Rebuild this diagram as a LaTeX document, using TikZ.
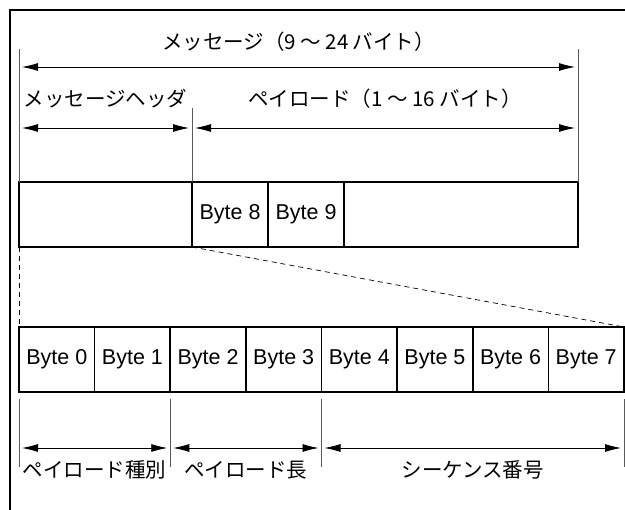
\documentclass[tikz,border=0pt]{standalone}
\usepackage{fontspec}
\setmainfont{Liberation Sans}
\newfontfamily\jpfont{Noto Sans CJK JP}
\usetikzlibrary{positioning, arrows.meta}
\usepackage{color}
\definecolor{line_gray}{RGB}{90,90,90}

\begin{document}
\begin{tikzpicture}[x=1pt, y=-1pt,
		cell/.style={draw, rectangle, line width=1.6pt, minimum height=65pt, inner sep=0pt, outer sep=0pt, font=\fontsize{21.5}{25}\selectfont},
		extline/.style={draw=line_gray, line width=0.7pt},
		dimarrow/.style={line width=0.8pt, {Latex[length=16pt,width=8pt]}-{Latex[length=16pt,width=8pt]}},
		jplabel/.style={font=\jpfont\fontsize{20.5}{24}\selectfont, inner sep=0pt}]
			\useasboundingbox (0,0) rectangle (625,510);
			% --- Frame ---
			\draw[line width=2.6pt] (10,515) -- (10,10) -- (630,10);

			% --- Begin Message Row ---
			\node [cell, minimum width=173pt, anchor=north west] (header) at (19,182) {};
			\node [cell, minimum width=76pt, right=0pt of header] (byte8) {Byte 8};
			\node [cell, minimum width=76pt, right=0pt of byte8] (byte9) {Byte 9};
			\node [cell, minimum width=234pt, right=0pt of byte9] (rest) {};
			% --- End Message Row ---

			% --- Begin Header Row ---
			\node [cell, minimum width=75.625pt, anchor=north west] (byte0) at (19,327) {Byte 0};
			\foreach \i [remember=\i as \last (initially 0)] in {1,...,7}
				\node [cell, minimum width=75.625pt, right=0pt of byte\last] (byte\i) {Byte \i};
			% --- End Header Row ---

			% Zoom lines from the header to its bytes.
			\draw[line width=0.7pt, dash pattern=on 5pt off 4pt] (header.south west) -- (byte0.north west);
			\draw[line width=0.7pt, dash pattern=on 5pt off 4pt] (header.south east) -- (byte7.north east);

			% Dimensions above the message.
			\draw[extline] (header.north west) -- ([yshift=133pt]header.north west);
			\draw[extline] (rest.north east) -- ([yshift=133pt]rest.north east);
			\draw[extline] (header.north east) -- ([yshift=74pt]header.north east);
			\draw[dimarrow] ([shift={(3pt,115pt)}]header.north west) -- node[jplabel, midway, yshift=25pt] {メッセージ（9 ～ 24 バイト）} ([shift={(-3pt,115pt)}]rest.north east);
			\draw[dimarrow] ([shift={(3pt,54pt)}]header.north west) -- node[jplabel, midway, yshift=29pt] {メッセージヘッダ} ([shift={(-3pt,54pt)}]header.north east);
			\draw[dimarrow] ([shift={(3pt,54pt)}]header.north east) -- node[jplabel, midway, yshift=29pt] {ペイロード（1 ～ 16 バイト）} ([shift={(-3pt,54pt)}]rest.north east);

			% Dimensions below the header bytes.
			\foreach \b in {byte0, byte2, byte4}
				\draw[extline] ([yshift=-7pt]\b.south west) -- ([yshift=-75pt]\b.south west);
			\draw[extline] ([yshift=-7pt]byte7.south east) -- ([yshift=-75pt]byte7.south east);
			\draw[dimarrow] ([shift={(3pt,-56pt)}]byte0.south west) -- node[jplabel, midway, yshift=-22pt] {ペイロード種別} ([shift={(-3pt,-56pt)}]byte1.south east);
			\draw[dimarrow] ([shift={(3pt,-56pt)}]byte2.south west) -- node[jplabel, midway, yshift=-22pt] {ペイロード長} ([shift={(-3pt,-56pt)}]byte3.south east);
			\draw[dimarrow] ([shift={(3pt,-56pt)}]byte4.south west) -- node[jplabel, midway, yshift=-22pt] {シーケンス番号} ([shift={(-3pt,-56pt)}]byte7.south east);
		\end{tikzpicture}
\end{document}
